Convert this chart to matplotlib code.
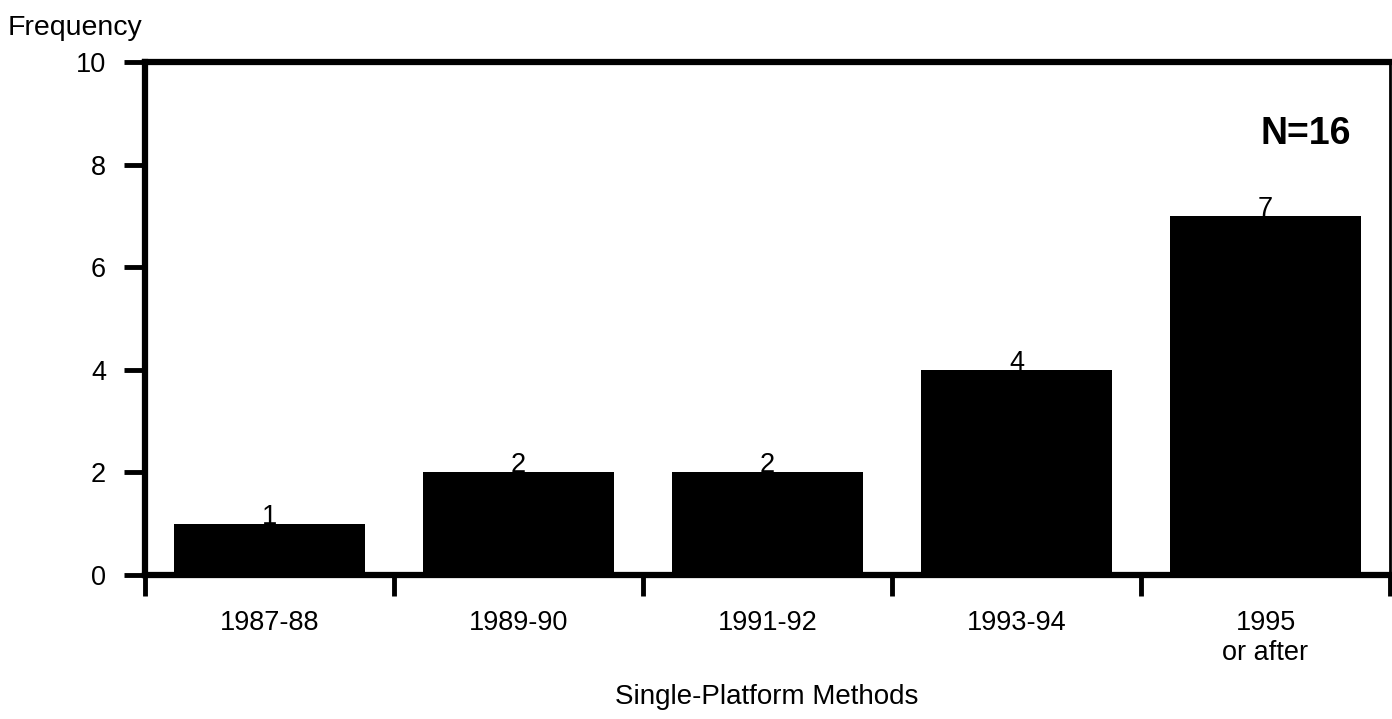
import numpy as np
import matplotlib
matplotlib.use("Agg")
import matplotlib.pyplot as plt

plt.rcParams.update({"font.family": ["Liberation Sans", "DejaVu Sans"], "font.size": 19})

periods = ["1987-88", "1989-90", "1991-92", "1993-94", "1995\nor after"]
counts = [1, 2, 2, 4, 7]
total_n = 16

fig = plt.figure(figsize=(13.92, 7.19), dpi=100)
ax = fig.add_axes([145/1392, 1 - 575/719, 1245/1392, 513/719])

x = np.arange(len(periods))
ax.bar(x, counts, width=0.77, color="black", zorder=2)
for xi, c in zip(x, counts):
    ax.text(xi, c, str(c), ha="center", va="baseline", fontsize=19.5, zorder=3)

ax.set_xlim(-0.5, len(periods) - 0.5)
ax.set_ylim(0, 10)
ax.set_yticks([0, 2, 4, 6, 8, 10])
# boundary ticks (no labels), category labels as minor ticks
ax.set_xticks(np.arange(-0.5, len(periods), 1.0))
ax.set_xticklabels([])
ax.set_xticks(x, minor=True)
ax.set_xticklabels(periods, minor=True)
ax.tick_params(axis="x", which="major", direction="out", length=15, width=3.5)
ax.tick_params(axis="x", which="minor", length=0, pad=25, labelsize=19.5)
ax.tick_params(axis="y", direction="out", length=15, width=3.5, pad=13, labelsize=19.5)

for s in ["left", "bottom", "top"]:
    ax.spines[s].set_linewidth(4.5)
ax.spines["right"].set_linewidth(2)

ax.text(0.932, 0.86, f"N={total_n}", transform=ax.transAxes, ha="center", va="center",
        fontsize=27, fontweight="bold")

fig.text(8/1392, 1 - 28/719, "Frequency", ha="left", va="center", fontsize=20.5)
fig.text(767/1392, 1 - 697/719, "Single-Platform Methods", ha="center", va="center", fontsize=20)

fig.savefig("out.png", dpi=100)
